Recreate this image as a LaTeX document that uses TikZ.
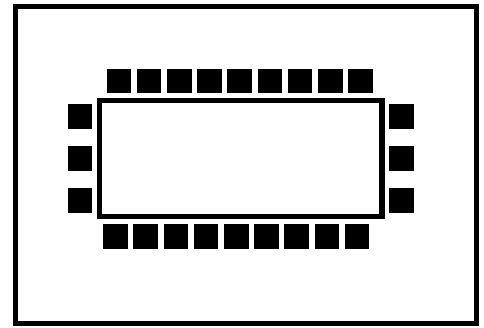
\documentclass[tikz,border=0pt]{standalone}
\usepackage{tikz}
\usetikzlibrary{positioning}

\begin{document}
\begin{tikzpicture}[x=1pt,y=-1pt,
    frame/.style={draw=black,line width=5.3pt,inner sep=0pt},
    seat/.style={fill=black,inner sep=0pt,minimum size=24.5pt}]
    \useasboundingbox (0,0) rectangle (484,327);
    \node[frame,minimum width=461pt,minimum height=317.2pt] (room) at (246,164.9) {};
    \node[frame,line width=5.5pt,minimum width=282.8pt,minimum height=115.8pt] (table) at (240.8,158.4) {};
    \foreach \i in {0,...,8}{
      \node[seat] (top\i) at (118.9+30.2*\i,81.2) {};
      \node[seat] (bot\i) at (115.5+30.2*\i,236.7) {};
    }
    \foreach \j/\y in {0/116.5,1/158.4,2/200.3}{
      \node[seat] (left\j) at (80.1,\y) {};
      \node[seat] (right\j) at (401.5,\y) {};
    }
  \end{tikzpicture}
\end{document}
